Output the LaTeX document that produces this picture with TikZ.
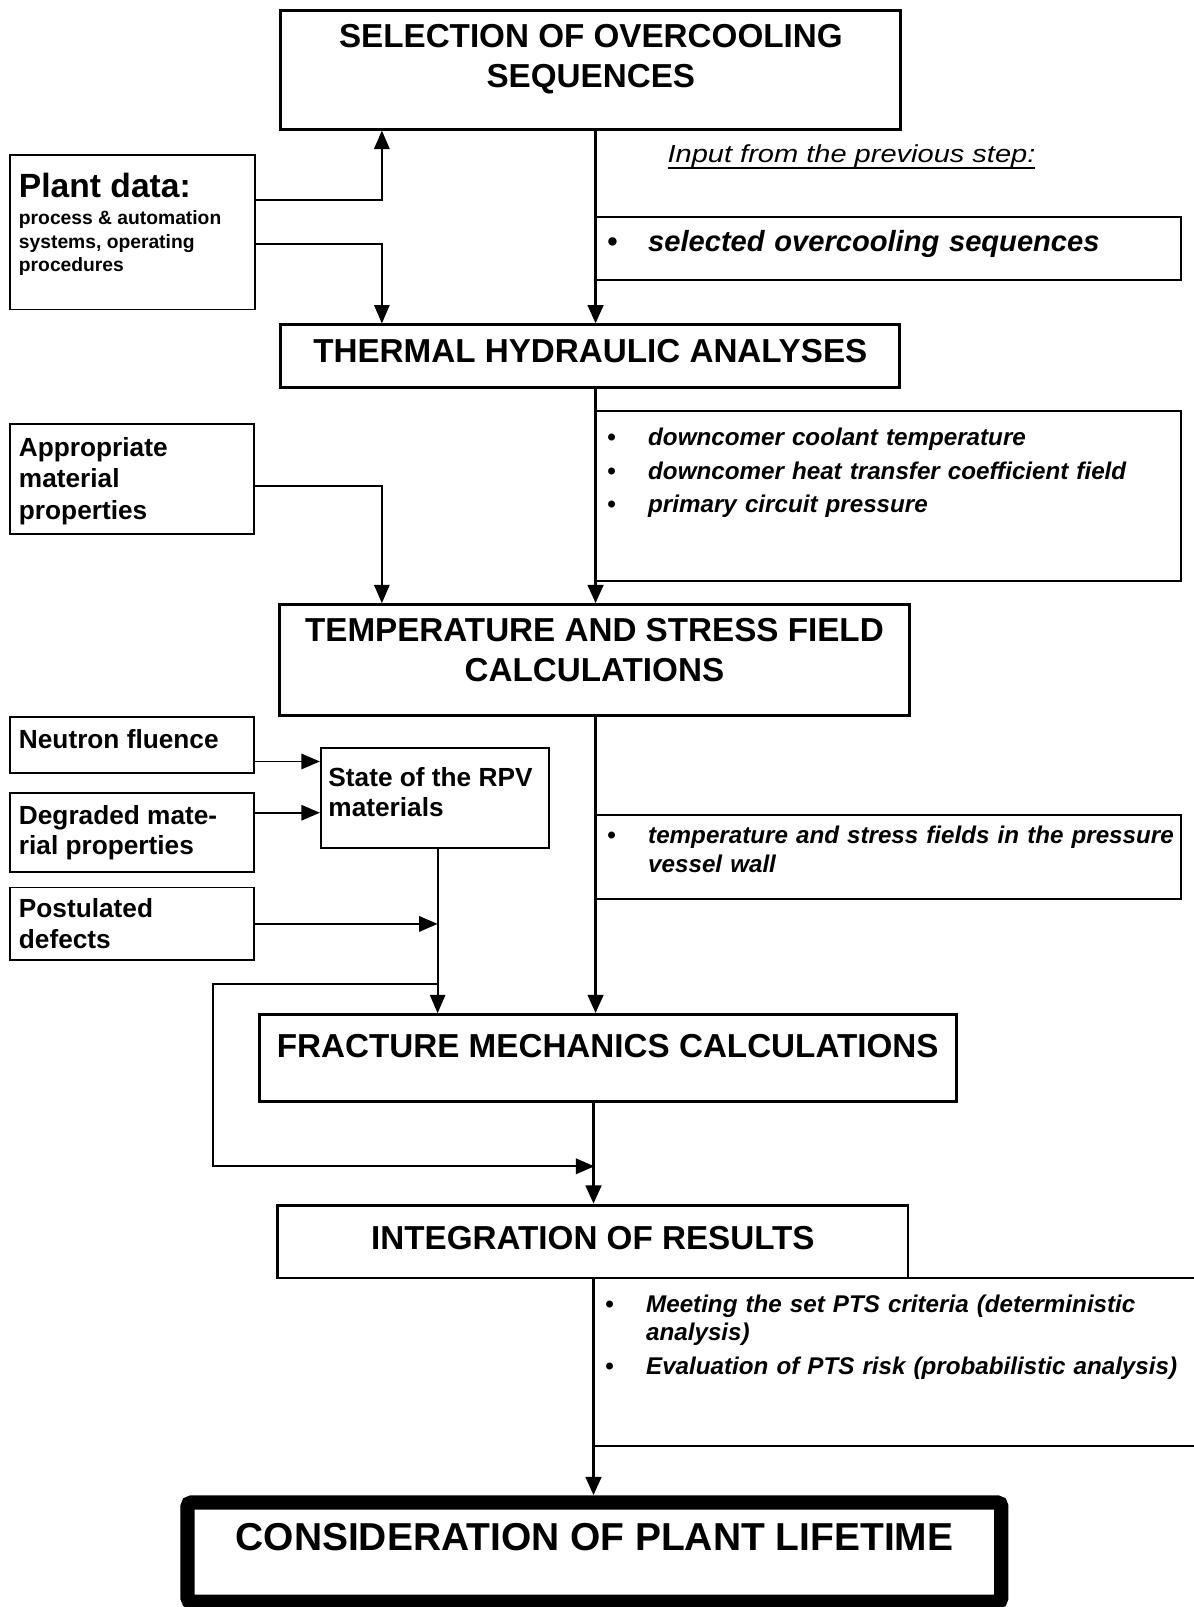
\documentclass[tikz,border=0pt]{standalone}
\usepackage{fontspec}
\setmainfont{Liberation Sans}
\newfontfamily\inpfont[FakeStretch=1.18]{Liberation Sans}
\usetikzlibrary{arrows.meta,fit,positioning}
\newcommand{\bitem}[1]{\par\noindent\hangindent=20pt\hangafter=1\makebox[20pt][l]{\textbullet}#1\par}
\newcommand{\undl}[1]{\setbox0=\hbox{#1}\rlap{\rule[-2.9pt]{\wd0}{0.9pt}}\box0}

\begin{document}
\begin{tikzpicture}[x=0.5pt,y=-0.5pt,>={Triangle[length=9pt,width=7.5pt]},
  stepbox/.style={draw,line width=1.4pt,inner sep=0pt},
  sidebox/.style={draw,line width=0.9pt,inner sep=0pt},
  steptxt/.style={inner sep=0pt,align=center,font=\fontsize{16.2}{19.5}\selectfont\bfseries},
  sidetxt/.style={inner sep=0pt,align=left,font=\fontsize{12.8}{15}\selectfont\bfseries},
  outtxt/.style={inner sep=0pt,align=left,text width=283pt,font=\fontsize{11.8}{13.75}\selectfont\bfseries\itshape,
    execute at begin node={\setlength{\parskip}{2.75pt}}},
  flow/.style={->,line width=1.7pt},
  feed/.style={->,line width=0.9pt}]
\useasboundingbox (0,0) rectangle (1165,1568);

% steps of the procedure
\node[stepbox,fit={(274,10) (879,126)}] (sel) {};
\node[steptxt,below=7.5pt of sel.north] (sel-t) {SELECTION OF OVERCOOLING\\SEQUENCES};
\node[stepbox,fit={(274,317) (878,378)}] (thermal) {};
\node[steptxt,below=7.5pt of thermal.north] (thermal-t) {THERMAL HYDRAULIC ANALYSES};
\node[stepbox,fit={(273,590) (887,698)}] (tempstress) {};
\node[steptxt,below=7pt of tempstress.north] (tempstress-t) {TEMPERATURE AND STRESS FIELD\\CALCULATIONS};
\node[stepbox,fit={(253,990) (933,1075)}] (fracture) {};
\node[steptxt,below=10pt of fracture.north] (fracture-t) {FRACTURE MECHANICS CALCULATIONS};
\node[stepbox,fit={(271,1176) (886,1247)}] (integ) {};
\node[steptxt,below=11pt of integ.north] (integ-t) {INTEGRATION OF RESULTS};
\node[draw,line width=7pt,inner sep=0pt,rounded corners=2pt,fit={(183,1466) (977,1563)}] (lifetime) {};
\node[steptxt,font=\fontsize{19}{22}\selectfont\bfseries,below=13.5pt of lifetime.north] (lifetime-t) {CONSIDERATION OF PLANT LIFETIME};

% results passed on
\node[inner sep=0pt,anchor=base west,font=\fontsize{12}{14}\inpfont\itshape] (inp) at (651,159) {\undl{Input from the previous step:}};
\node[sidebox,fit={(582,212) (1152,273)}] (out-sel) {};
\node[outtxt,font=\fontsize{14.2}{17}\selectfont\bfseries\itshape,below right=-2.7pt and 5.5pt of out-sel.north west] (out-sel-t) {\bitem{selected overcooling sequences}};
\node[sidebox,fit={(582,401) (1152,567)}] (out-th) {};
\node[outtxt,below right=0.5pt and 5.5pt of out-th.north west] (out-th-t) {\bitem{downcomer coolant temperature}\bitem{downcomer heat transfer coefficient field}\bitem{primary circuit pressure}};
\node[sidebox,fit={(582,795) (1152,877)}] (out-ts) {};
\node[outtxt,below right=-2pt and 5.5pt of out-ts.north west] (out-ts-t) {\bitem{temperature and stress fields in the pressure\newline vessel wall}};
\node[sidebox,fit={(580,1247) (1190,1411)}] (out-int) {};
\node[outtxt,below right=0.5pt and 5.5pt of out-int.north west] (out-int-t) {\bitem{Meeting the set PTS criteria (deterministic\newline analysis)}\bitem{Evaluation of PTS risk (probabilistic analysis)}};

% input data
\node[sidebox,fit={(10,151) (249,302)}] (plant) {};
\node[sidetxt,font=\fontsize{9.4}{11.5}\selectfont\bfseries,below right=9pt and 4.5pt of plant.north west] (plant-t) {{\fontsize{16.4}{19}\selectfont Plant data:}\\[2pt]process \& automation\\systems, operating\\procedures};
\node[sidebox,fit={(10,414) (248,521)}] (matprop) {};
\node[sidetxt,font=\fontsize{12.8}{15.5}\selectfont\bfseries,below right=6.5pt and 4.5pt of matprop.north west] (matprop-t) {Appropriate\\material\\properties};
\node[sidebox,fit={(10,700) (248,754)}] (neutron) {};
\node[sidetxt,below right=6pt and 4.5pt of neutron.north west] (neutron-t) {Neutron fluence};
\node[sidebox,fit={(10,774) (248,851)}] (degraded) {};
\node[sidetxt,below right=6pt and 4.5pt of degraded.north west] (degraded-t) {Degraded mate-\\rial properties};
\node[sidebox,fit={(10,866) (248,937)}] (postul) {};
\node[sidetxt,below right=5.5pt and 4.5pt of postul.north west] (postul-t) {Postulated\\defects};
\node[sidebox,fit={(313,730) (536,827)}] (rpvstate) {};
\node[sidetxt,below right=9.5pt and 4pt of rpvstate.north west] (rpvstate-t) {State of the RPV\\materials};

% main flow
\draw[flow] (sel.south -| out-sel.west) -- (thermal.north -| out-sel.west);
\draw[flow] (thermal.south -| out-th.west) -- (tempstress.north -| out-th.west);
\draw[flow] (tempstress.south -| out-ts.west) -- (fracture.north -| out-ts.west);
\draw[flow] (fracture.south -| out-int.west) -- (integ.north -| out-int.west);
\draw[flow] (integ.south -| out-int.west) -- (lifetime.north -| out-int.west);

% feeds from the input data
\draw[feed] ([yshift=15.75pt]plant.east) -| ([xshift=50pt]sel.south west);
\draw[feed] ([yshift=-5.75pt]plant.east) -| ([xshift=50pt]thermal.north west);
\draw[feed] ([yshift=-3.25pt]matprop.east) -| ([xshift=50.5pt]tempstress.north west);
\coordinate (nf) at ([yshift=-8pt]neutron.east);
\coordinate (dm) at ([yshift=9.75pt]degraded.east);
\coordinate (rs) at ([xshift=1.25pt]rpvstate.south);
\coordinate (lp) at (427,960);
\coordinate (lj) at (580,1138);
\draw[feed] (nf) -- (nf -| rpvstate.west);
\draw[feed] (dm) -- (dm -| rpvstate.west);
\draw[feed] (rs) -- (rs |- fracture.north);
\draw[feed] (postul.east) -- (postul.east -| rs);
\draw[feed] (lp) -- ++(-219,0) |- (lj);
\end{tikzpicture}
\end{document}
